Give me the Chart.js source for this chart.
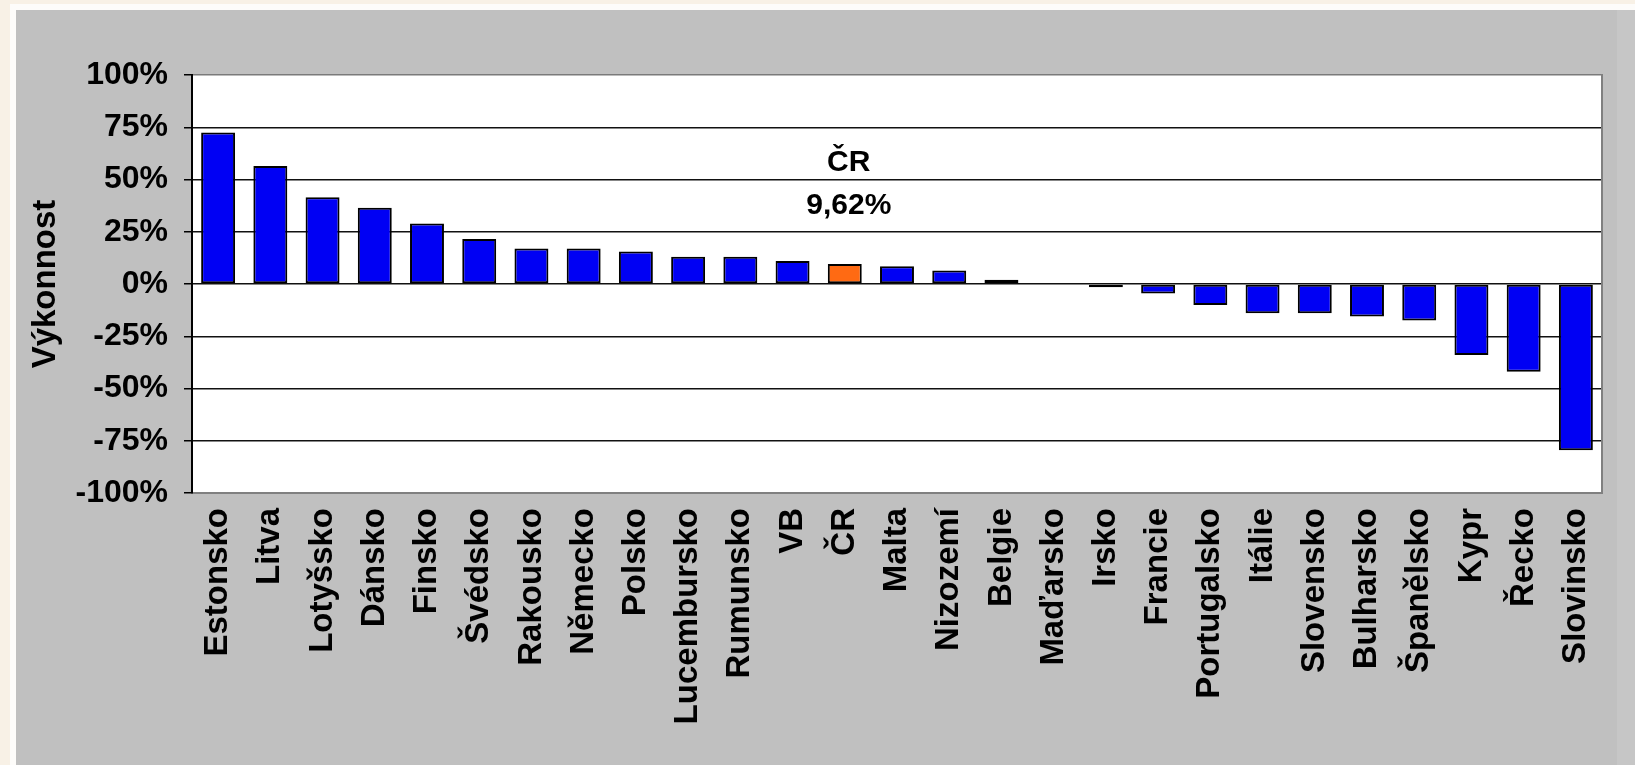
<!DOCTYPE html>
<html>
<head>
<meta charset="utf-8">
<script src="https://cdn.jsdelivr.net/npm/chart.js@4/dist/chart.umd.min.js"></script>
<style>
  html, body { margin: 0; padding: 0; }
  body { width: 1635px; height: 765px; background: #f8f1e6; position: relative; overflow: hidden; }
  #white { position: absolute; left: 10px; top: 4px; width: 1625px; height: 761px; background: #fdfcfa; }
  #panel { position: absolute; left: 16px; top: 10px; width: 1619px; height: 755px; background: #c0c0c0; }
  #edge { position: absolute; right: 0; top: 0; width: 18px; height: 755px; background: #c6c6c6; }
  #wrap { position: absolute; left: 0; top: 0; width: 1619px; height: 755px; }
</style>
</head>
<body>
<div id="white"></div>
<div id="panel"><div id="edge"></div><div id="wrap"><canvas id="c" width="1619" height="755"></canvas></div></div>
<script>
const categories = ["Estonsko","Litva","Lotyšsko","Dánsko","Finsko","Švédsko","Rakousko","Německo","Polsko","Lucembursko","Rumunsko","VB","ČR","Malta","Nizozemí","Belgie","Maďarsko","Irsko","Francie","Portugalsko","Itálie","Slovensko","Bulharsko","Španělsko","Kypr","Řecko","Slovinsko"];
const performance = [72.5, 56.5, 41.5, 36.5, 29, 21.5, 17, 17, 15.5, 13, 13, 11, 9.62, 8.5, 6.5, 2, 0, -1.5, -4.5, -10, -14, -14, -15.5, -17.5, -34, -42, -79.5];
const highlightCategory = "ČR";
const annotationLines = ["ČR", "9,62%"];
const annotationLevels = [58, 37.5];
const yTickValues = [-100, -75, -50, -25, 0, 25, 50, 75, 100];
const yAxisTitle = "Výkonnost";

const FONT = "'Liberation Sans', Arial, sans-serif";
const barColors = categories.map(c => c === highlightCategory ? "#ff6a13" : "#0000f4");

const plotBg = {
  id: "plotBg",
  beforeDraw(chart) {
    const {ctx, chartArea: a} = chart;
    ctx.save();
    ctx.fillStyle = "#ffffff";
    ctx.fillRect(a.left, a.top, a.right - a.left, a.bottom - a.top);
    ctx.restore();
  }
};

const annot = {
  id: "annot",
  afterDatasetsDraw(chart) {
    const {ctx} = chart;
    const xs = chart.scales.x, ys = chart.scales.y;
    const idx = categories.indexOf(highlightCategory);
    const x = xs.getPixelForValue(idx) + 4;
    ctx.save();
    ctx.fillStyle = "#000";
    ctx.font = "bold 30px " + FONT;
    ctx.textAlign = "center";
    ctx.textBaseline = "middle";
    annotationLines.forEach((t, i) => ctx.fillText(t, x, ys.getPixelForValue(annotationLevels[i])));
    ctx.restore();
  }
};

new Chart(document.getElementById("c"), {
  type: "bar",
  data: {
    labels: categories,
    datasets: [{
      data: performance,
      backgroundColor: barColors,
      borderColor: "#000000",
      borderWidth: 2,
      borderSkipped: false,
      barPercentage: 0.65,
      categoryPercentage: 1.0
    }]
  },
  options: {
    responsive: false,
    animation: false,
    layout: { padding: { top: 65, left: 0, right: 0, bottom: 0 } },
    plugins: { legend: { display: false }, tooltip: { enabled: false } },
    scales: {
      x: {
        position: "bottom",
        grid: { display: false, drawTicks: false },
        border: { display: true, color: "#808080", width: 2 },
        ticks: {
          autoSkip: false,
          maxRotation: 90,
          minRotation: 90,
          padding: 15,
          color: "#000",
          font: { family: FONT, size: 33, weight: "bold" }
        },
        afterFit(s) { s.height = 272; }
      },
      y: {
        position: "left",
        min: -100,
        max: 100,
        afterBuildTicks(s) { s.ticks = yTickValues.map(v => ({ value: v })); },
        grid: {
          color: ctx => (ctx.tick && Math.abs(ctx.tick.value) === 100) ? "#7a7a7a" : "#111111",
          lineWidth: 1.5,
          tickColor: "#000",
          tickLength: 8,
          drawTicks: true
        },
        border: { display: true, color: "#000", width: 2 },
        ticks: {
          padding: 16,
          color: "#000",
          font: { family: FONT, size: 32, weight: "bold" },
          callback: v => v + "%"
        },
        title: {
          display: true,
          text: yAxisTitle,
          color: "#000",
          font: { family: FONT, size: 33, weight: "bold" },
          padding: { top: 10, bottom: 0 }
        },
        afterFit(s) { s.width = 176; }
      },
      y2: {
        position: "right",
        min: -100,
        max: 100,
        grid: { drawOnChartArea: false, drawTicks: false },
        ticks: { display: false },
        border: { display: true, color: "#808080", width: 2 },
        afterFit(s) { s.width = 33; }
      }
    }
  },
  plugins: [plotBg, annot]
});
</script>
</body>
</html>
